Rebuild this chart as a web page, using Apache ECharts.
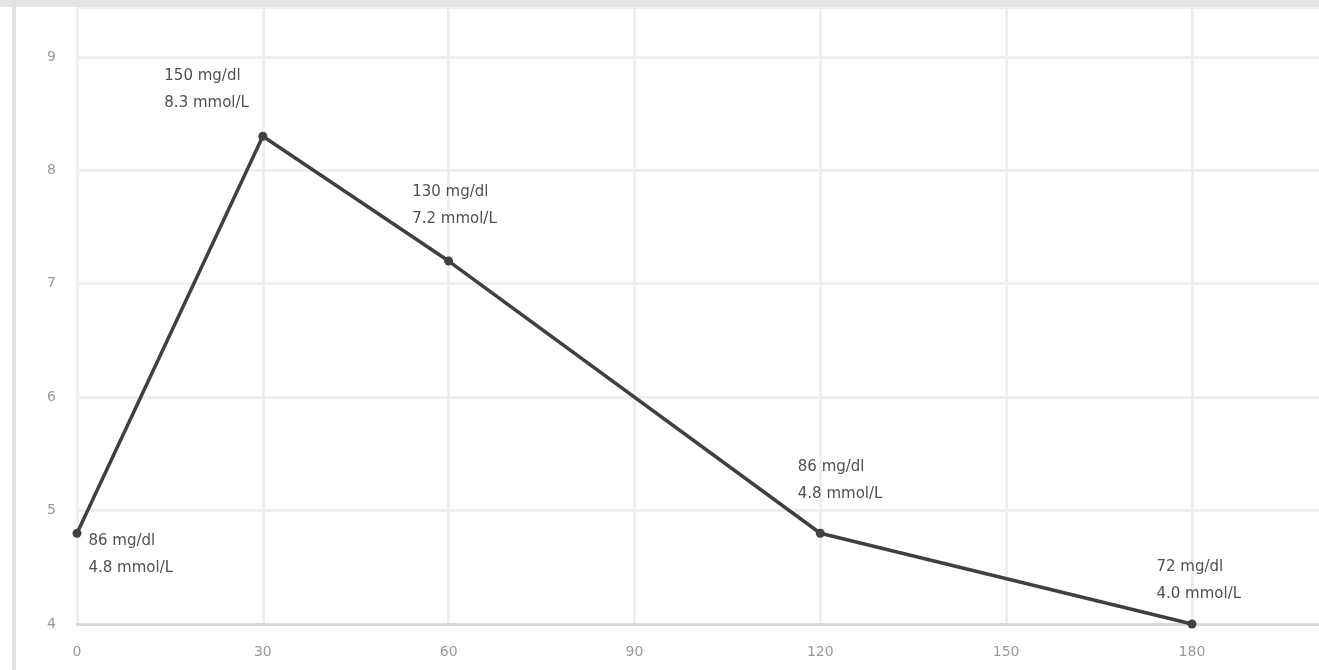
<!DOCTYPE html>
<html>
<head>
<meta charset="utf-8">
<script src="https://cdn.jsdelivr.net/npm/echarts@6/dist/echarts.min.js"></script>
<style>
html,body{margin:0;padding:0;background:#fff;overflow:hidden;}
#c{width:1319px;height:670px;}
</style>
</head>
<body>
<div id="c"></div>
<script>
// Data
var minutes = [0, 30, 60, 120, 180];
var mmol = [4.8, 8.3, 7.2, 4.8, 4.0];
var mgdl = [86, 150, 130, 86, 72];
var mmolLabels = ['4.8', '8.3', '7.2', '4.8', '4.0'];
var xTicks = [0, 30, 60, 90, 120, 150, 180];
var yTicks = [4, 5, 6, 7, 8, 9];

// Label placement (layout, not data)
var labelPos = [[16, -1], [-94, -69], [-32, -78], [-18, -75], [-31, -66]];

var chart = echarts.init(document.getElementById('c'));
var seriesData = minutes.map(function (m, i) {
  return {
    value: [m, mmol[i]],
    label: {
      show: true,
      position: labelPos[i],
      formatter: mgdl[i] + ' mg/dl\n' + mmolLabels[i] + ' mmol/L'
    }
  };
});

chart.setOption({
  animation: false,
  backgroundColor: '#ffffff',
  grid: { left: 77, width: 1250, top: 7, bottom: 46, containLabel: false, outerBoundsMode: 'none' },
  xAxis: {
    type: 'value',
    min: 0,
    max: 201.8,
    interval: 30,
    axisLine: { show: true, lineStyle: { color: '#d9d9d9', width: 3 } },
    axisTick: { show: false },
    splitLine: { show: true, lineStyle: { color: '#efefef', width: 3 } },
    axisLabel: {
      color: '#999999', fontSize: 14, margin: 21, fontFamily: 'DejaVu Sans',
      formatter: function (v) { return xTicks.indexOf(v) >= 0 ? String(v) : ''; }
    }
  },
  yAxis: {
    type: 'value',
    min: 4,
    max: 9.44,
    interval: 1,
    axisLine: { show: false },
    axisTick: { show: false },
    splitLine: { show: true, lineStyle: { color: '#efefef', width: 3 } },
    axisLabel: {
      color: '#999999', fontSize: 14, margin: 21, fontFamily: 'DejaVu Sans',
      formatter: function (v) { return yTicks.indexOf(v) >= 0 ? String(v) : ''; }
    }
  },
  graphic: [
    { type: 'rect', left: 0, top: 0, shape: { width: 1319, height: 7 }, style: { fill: '#e4e4e4' }, z: 100 },
    { type: 'rect', left: 12, top: 0, shape: { width: 4, height: 670 }, style: { fill: '#e2e2e2' }, z: 100 }
  ],
  series: [{
    type: 'line',
    data: seriesData,
    symbol: 'circle',
    symbolSize: 9,
    lineStyle: { color: '#404040', width: 3.5 },
    itemStyle: { color: '#404040' },
    label: {
      color: '#505050',
      fontSize: 15,
      lineHeight: 27,
      fontFamily: 'DejaVu Sans',
      align: 'left',
      verticalAlign: 'top'
    }
  }]
});
</script>
</body>
</html>
